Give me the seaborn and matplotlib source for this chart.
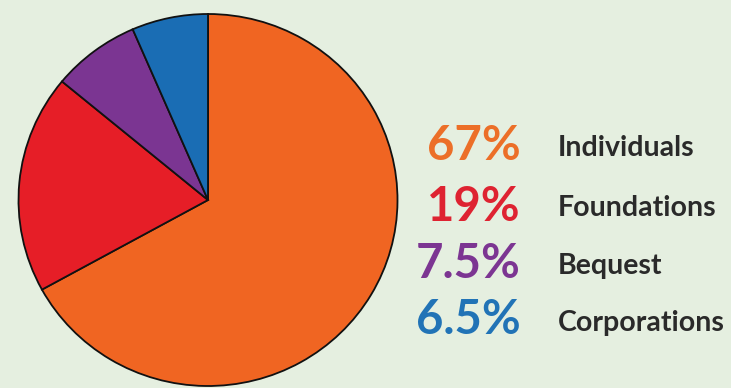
import matplotlib
matplotlib.use("Agg")
import matplotlib.pyplot as plt
import seaborn as sns

categories = ["Individuals", "Foundations", "Bequest", "Corporations"]
shares = [67, 19, 7.5, 6.5]
pct_labels = ["67%", "19%", "7.5%", "6.5%"]
slice_colors = ["#f06522", "#e61e27", "#7b3592", "#1a6db4"]
text_colors = ["#ec6f28", "#de2331", "#7c3592", "#2173b6"]

BG = "#e5efe0"
sns.set_theme(style="white")
plt.rcParams["font.family"] = ["Lato", "DejaVu Sans"]

fig = plt.figure(figsize=(7.31, 3.88), dpi=100, facecolor=BG)
W, H = 731, 388
cx, cy, rx, ry = 208, 200, 189.5, 186
ax = fig.add_axes([(cx - rx) / W, (H - cy - ry) / H, 2 * rx / W, 2 * ry / H])
ax.set_facecolor(BG)
ax.pie(shares, colors=slice_colors, startangle=90, counterclock=False,
       radius=1.0, wedgeprops=dict(edgecolor="#111111", linewidth=1.3))
ax.set_xlim(-1.0, 1.0)
ax.set_ylim(-1.0, 1.0)
ax.set_aspect("auto")
ax.axis("off")

pct_base = [160, 221, 278, 334]
lab_base = [156, 216, 274, 331]
for p, c, lab, py, ly in zip(pct_labels, text_colors, categories, pct_base, lab_base):
    fig.text(521 / W, 1 - py / H, p, color=c, fontsize=34, fontweight="bold",
             ha="right", va="baseline")
    fig.text(558 / W, 1 - ly / H, lab, color="#2a2a2a", fontsize=20.5,
             fontweight="bold", ha="left", va="baseline")

fig.savefig("out.png", dpi=100, facecolor=BG)
